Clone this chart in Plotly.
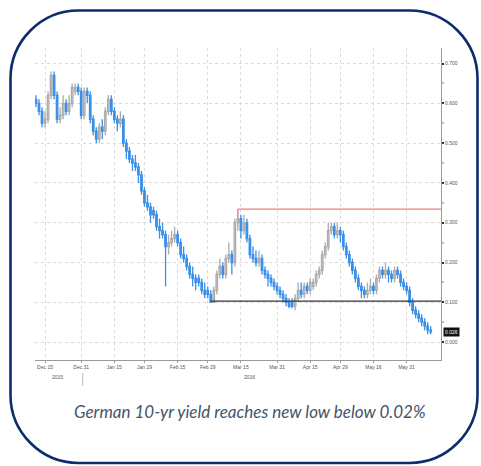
import pandas as pd
import plotly.graph_objects as go

# German 10-year Bund yield, daily OHLC (%), Dec 2015 - Jun 2016
opens = [0.61, 0.60, 0.58, 0.55, 0.56, 0.62, 0.67, 0.62, 0.56, 0.57,
         0.60, 0.58, 0.60, 0.63, 0.64, 0.63, 0.57, 0.63, 0.62, 0.56,
         0.53, 0.51, 0.54, 0.53, 0.58, 0.61, 0.58, 0.56, 0.55, 0.56,
         0.50, 0.48, 0.46, 0.45, 0.44, 0.42, 0.38, 0.35, 0.34, 0.33,
         0.32, 0.29, 0.28, 0.27, 0.24, 0.25, 0.26, 0.27, 0.25, 0.22,
         0.21, 0.19, 0.17, 0.16, 0.16, 0.15, 0.13, 0.13, 0.12, 0.10,
         0.13, 0.17, 0.19, 0.17, 0.21, 0.22, 0.20, 0.30, 0.31, 0.28,
         0.30, 0.26, 0.22, 0.21, 0.20, 0.21, 0.18, 0.17, 0.16, 0.15,
         0.14, 0.13, 0.12, 0.11, 0.10, 0.10, 0.09, 0.11, 0.13, 0.12,
         0.14, 0.13, 0.14, 0.15, 0.17, 0.18, 0.22, 0.24, 0.28, 0.29,
         0.27, 0.28, 0.27, 0.24, 0.22, 0.20, 0.18, 0.16, 0.14, 0.13,
         0.12, 0.13, 0.14, 0.13, 0.16, 0.18, 0.17, 0.18, 0.17, 0.16,
         0.18, 0.17, 0.15, 0.14, 0.13, 0.10, 0.08, 0.07, 0.06, 0.05,
         0.04, 0.03]
highs = [0.62, 0.61, 0.59, 0.58, 0.63, 0.68, 0.68, 0.63, 0.59, 0.62,
         0.61, 0.62, 0.65, 0.65, 0.65, 0.64, 0.64, 0.64, 0.63, 0.57,
         0.54, 0.55, 0.56, 0.59, 0.62, 0.62, 0.59, 0.57, 0.58, 0.57,
         0.51, 0.49, 0.47, 0.47, 0.45, 0.43, 0.39, 0.37, 0.35, 0.34,
         0.33, 0.31, 0.30, 0.28, 0.27, 0.28, 0.29, 0.28, 0.26, 0.24,
         0.22, 0.20, 0.19, 0.17, 0.17, 0.16, 0.15, 0.14, 0.13, 0.14,
         0.18, 0.21, 0.20, 0.22, 0.25, 0.23, 0.31, 0.334, 0.32, 0.32,
         0.31, 0.27, 0.24, 0.23, 0.23, 0.22, 0.19, 0.18, 0.17, 0.16,
         0.15, 0.14, 0.13, 0.12, 0.11, 0.11, 0.12, 0.15, 0.15, 0.15,
         0.15, 0.16, 0.16, 0.18, 0.19, 0.23, 0.25, 0.30, 0.30, 0.30,
         0.30, 0.29, 0.28, 0.25, 0.23, 0.21, 0.19, 0.17, 0.15, 0.14,
         0.15, 0.16, 0.15, 0.17, 0.19, 0.19, 0.20, 0.19, 0.18, 0.19,
         0.19, 0.18, 0.16, 0.15, 0.14, 0.11, 0.09, 0.08, 0.07, 0.06,
         0.05, 0.04]
lows = [0.59, 0.57, 0.54, 0.54, 0.55, 0.61, 0.61, 0.55, 0.55, 0.56,
        0.57, 0.57, 0.59, 0.62, 0.62, 0.56, 0.56, 0.60, 0.55, 0.52,
        0.50, 0.50, 0.51, 0.52, 0.57, 0.57, 0.55, 0.53, 0.54, 0.49,
        0.46, 0.45, 0.43, 0.43, 0.40, 0.37, 0.34, 0.33, 0.30, 0.31,
        0.28, 0.26, 0.26, 0.14, 0.22, 0.24, 0.25, 0.24, 0.21, 0.20,
        0.18, 0.16, 0.14, 0.13, 0.14, 0.12, 0.11, 0.11, 0.103, 0.10,
        0.12, 0.16, 0.16, 0.16, 0.20, 0.17, 0.19, 0.28, 0.26, 0.27,
        0.25, 0.21, 0.20, 0.19, 0.19, 0.17, 0.16, 0.14, 0.14, 0.13,
        0.12, 0.11, 0.10, 0.09, 0.085, 0.085, 0.08, 0.10, 0.11, 0.11,
        0.12, 0.12, 0.13, 0.14, 0.16, 0.17, 0.21, 0.23, 0.27, 0.26,
        0.26, 0.25, 0.23, 0.21, 0.19, 0.17, 0.15, 0.13, 0.11, 0.11,
        0.11, 0.12, 0.12, 0.12, 0.15, 0.16, 0.16, 0.15, 0.15, 0.15,
        0.16, 0.14, 0.13, 0.12, 0.09, 0.07, 0.06, 0.05, 0.04, 0.03,
        0.02, 0.02]
closes = [0.60, 0.58, 0.55, 0.56, 0.62, 0.67, 0.62, 0.56, 0.57, 0.60,
          0.58, 0.60, 0.64, 0.64, 0.63, 0.57, 0.63, 0.62, 0.56, 0.53,
          0.51, 0.54, 0.53, 0.58, 0.61, 0.58, 0.56, 0.55, 0.56, 0.50,
          0.48, 0.46, 0.45, 0.44, 0.42, 0.38, 0.35, 0.34, 0.32, 0.32,
          0.29, 0.28, 0.27, 0.24, 0.25, 0.26, 0.27, 0.25, 0.22, 0.21,
          0.19, 0.17, 0.16, 0.15, 0.15, 0.13, 0.12, 0.12, 0.10, 0.13,
          0.17, 0.19, 0.17, 0.21, 0.22, 0.20, 0.30, 0.31, 0.28, 0.30,
          0.26, 0.22, 0.21, 0.20, 0.21, 0.18, 0.17, 0.16, 0.15, 0.14,
          0.13, 0.12, 0.11, 0.10, 0.09, 0.09, 0.11, 0.13, 0.12, 0.14,
          0.13, 0.15, 0.15, 0.17, 0.18, 0.22, 0.24, 0.28, 0.29, 0.27,
          0.28, 0.27, 0.24, 0.22, 0.20, 0.18, 0.16, 0.14, 0.13, 0.12,
          0.13, 0.14, 0.13, 0.16, 0.18, 0.17, 0.18, 0.17, 0.16, 0.18,
          0.17, 0.15, 0.14, 0.13, 0.10, 0.08, 0.07, 0.06, 0.05, 0.04,
          0.03, 0.026]

dates = pd.bdate_range("2015-12-10", periods=len(closes))

tick_dates = ["2015-12-15", "2015-12-31", "2016-01-15", "2016-01-29",
              "2016-02-15", "2016-02-29", "2016-03-15", "2016-03-31",
              "2016-04-15", "2016-04-29", "2016-05-16", "2016-05-31"]
tick_labels = ["Dec 15", "Dec 31", "Jan 15", "Jan 29", "Feb 15", "Feb 29",
               "Mar 15", "Mar 31", "Apr 15", "Apr 29", "May 16", "May 31"]
y_ticks = [0.0, 0.1, 0.2, 0.3, 0.4, 0.5, 0.6, 0.7]
y_labels = ["0.000", "0.100", "0.200", "0.300", "0.400", "0.500", "0.600", "0.700"]

support_idx = 58      # Feb/Mar low
resistance_idx = 67   # March high
support_level = lows[support_idx]
resistance_level = highs[resistance_idx]

W, H = 481, 466
ML, MR, MT, MB = 35, 40, 48, 106
PW, PH = W - ML - MR, H - MT - MB
X_START, X_END = "2015-12-09 16:00", "2016-06-15 10:00"


def px(x):
    return (x - ML) / PW


def py(y):
    return (H - MB - y) / PH


fig = go.Figure()
fig.add_trace(go.Candlestick(
    x=dates, open=opens, high=highs, low=lows, close=closes,
    increasing=dict(line=dict(color="#ababab", width=1.3), fillcolor="#f4f4f4"),
    decreasing=dict(line=dict(color="#3a8fe8", width=1.3), fillcolor="#3a8fe8"),
    whiskerwidth=0, showlegend=False, hoverinfo="skip",
))

shapes = [
    dict(type="line", xref="x", yref="y", x0=dates[support_idx], x1=X_END,
         y0=support_level, y1=support_level, line=dict(color="#333333", width=1.2)),
    dict(type="line", xref="x", yref="y", x0=dates[resistance_idx], x1=X_END,
         y0=resistance_level, y1=resistance_level, line=dict(color="#f07c7c", width=1.2)),
    dict(type="line", xref="x", yref="y", x0=dates[resistance_idx], x1=dates[resistance_idx],
         y0=resistance_level - 0.02, y1=resistance_level, line=dict(color="#f07c7c", width=1)),
]

# rounded frame around the whole panel
L, R, T, B, rad = 10.5, 477.5, 10.5, 463, 68
k = 0.55 * rad
pts = [
    ("M", [(L + rad, T)]),
    ("L", [(R - rad, T)]),
    ("C", [(R - rad + k, T), (R, T + rad - k), (R, T + rad)]),
    ("L", [(R, B - rad)]),
    ("C", [(R, B - rad + k), (R - rad + k, B), (R - rad, B)]),
    ("L", [(L + rad, B)]),
    ("C", [(L + rad - k, B), (L, B - rad + k), (L, B - rad)]),
    ("L", [(L, T + rad)]),
    ("C", [(L, T + rad - k), (L + rad - k, T), (L + rad, T)]),
]
path = " ".join(cmd + " " + " ".join(f"{px(a):.5f},{py(b):.5f}" for a, b in p) for cmd, p in pts) + " Z"
shapes.append(dict(type="path", xref="paper", yref="paper", path=path,
                   line=dict(color="#0c2c6c", width=2.6), layer="above"))
# divider between the two year labels
shapes.append(dict(type="line", xref="x", yref="paper", x0="2015-12-31 12:00", x1="2015-12-31 12:00",
                   y0=py(373), y1=py(386), line=dict(color="#bbbbbb", width=1)))

annotations = [
    dict(text="2015", xref="x", yref="paper", x="2015-12-21", y=py(377), yanchor="middle",
         showarrow=False, font=dict(size=5, color="#555555", family="Liberation Sans")),
    dict(text="2016", xref="x", yref="paper", x="2016-03-18", y=py(377), yanchor="middle",
         showarrow=False, font=dict(size=5, color="#555555", family="Liberation Sans")),
    dict(text=f"{closes[-1]:.3f}", xref="paper", yref="y", x=1.0, y=closes[-1], xanchor="left",
         xshift=2, showarrow=False, bgcolor="#111111", borderpad=1,
         font=dict(size=5, color="#ffffff", family="Liberation Sans")),
    dict(text="<i>German 10-yr yield reaches new low below 0.02%</i>", xref="paper", yref="paper",
         x=px(250), y=py(411), yanchor="middle", showarrow=False,
         font=dict(size=17, color="#44546a", family="Lato")),
]

fig.update_layout(
    width=W, height=H, margin=dict(l=ML, r=MR, t=MT, b=MB),
    paper_bgcolor="white", plot_bgcolor="white",
    shapes=shapes, annotations=annotations,
    xaxis=dict(
        type="date", range=[X_START, X_END],
        rangebreaks=[dict(bounds=["sat", "mon"])],
        rangeslider=dict(visible=False),
        tickvals=tick_dates, ticktext=tick_labels,
        tickfont=dict(size=5, color="#555555", family="Liberation Sans"),
        showgrid=True, gridcolor="#d9d9d9", griddash="dot", gridwidth=1,
        showline=True, linecolor="#9a9a9a", linewidth=1,
        ticks="outside", ticklen=2, tickcolor="#9a9a9a",
        zeroline=False,
    ),
    yaxis=dict(
        side="right", range=[-0.045, 0.739],
        tickvals=y_ticks, ticktext=y_labels,
        tickfont=dict(size=5, color="#555555", family="Liberation Sans"),
        showgrid=True, gridcolor="#d9d9d9", griddash="dot", gridwidth=1,
        showline=True, linecolor="#9a9a9a", linewidth=1,
        ticks="outside", ticklen=2, tickcolor="#333333", tickwidth=2,
        minor=dict(dtick=0.05, ticks="outside", ticklen=2, tickcolor="#bbbbbb", showgrid=False),
        zeroline=False,
    ),
)

fig.write_html("out.html")
